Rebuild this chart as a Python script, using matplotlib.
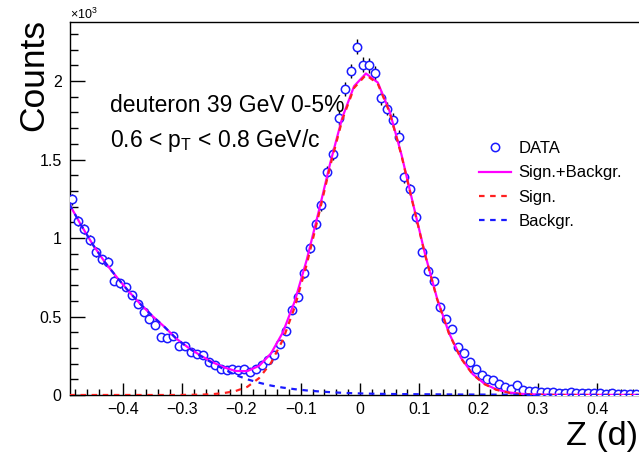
import numpy as np
import matplotlib.pyplot as plt
from matplotlib.ticker import MultipleLocator, FuncFormatter

plt.rcParams["font.family"] = ["Liberation Sans", "DejaVu Sans"]
plt.rcParams["mathtext.fontset"] = "custom"
plt.rcParams["mathtext.rm"] = "Liberation Sans"
plt.rcParams["mathtext.it"] = "Liberation Sans"

# data histogram: bin centres start at -0.485, step 0.01
z_first = -0.485
z_step = 0.01
counts = [
    1246, 1110, 1059, 987, 911, 864, 847, 728, 711, 690,
    635, 582, 529, 486, 444, 367, 363, 376, 310, 312,
    275, 259, 255, 212, 193, 166, 161, 164, 159, 168,
    149, 168, 189, 220, 255, 322, 408, 539, 626, 775,
    936, 1089, 1208, 1420, 1533, 1764, 1947, 2066, 2218, 2104,
    2100, 2053, 1890, 1824, 1752, 1645, 1386, 1310, 1132, 914,
    792, 724, 559, 486, 418, 304, 270, 210, 164, 130,
    100, 96, 70, 53, 40, 62, 32, 27, 24, 20,
    17, 22, 15, 14, 18, 12, 13, 15, 10, 11,
    9, 12, 8, 9, 7, 8,
]

# fit curves on a 0.02 grid starting at -0.49
fit_first = -0.49
fit_step = 0.02
sig_curve = [
    0, 0, 0, 0, 0, 0, 0, 0, 0, 0,
    1, 2, 5, 12, 25, 52, 108, 205, 352, 560,
    829, 1140, 1462, 1751, 1956, 2039, 1983, 1800, 1525, 1205,
    889, 611, 392, 235, 131, 69, 33, 15, 6, 2.5,
    1, 0, 0, 0, 0, 0, 0, 0, 0,
]
bkg_curve = [
    1215, 1080, 955, 845, 750, 660, 578, 503, 435, 360,
    302, 252, 206, 165, 128, 100, 78, 60, 47, 37,
    29, 23, 18, 14, 11, 9, 7.5, 6.5, 5.5, 5,
    4.5, 4, 3.5, 3, 2.8, 2.5, 2.2, 2, 1.8, 1.6,
    1.4, 1.3, 1.2, 1.1, 1, 0.9, 0.8, 0.7, 0.6,
]

z = z_first + z_step * np.arange(len(counts))
y = np.array(counts, dtype=float)
zf = fit_first + fit_step * np.arange(len(sig_curve))
sig = np.array(sig_curve, dtype=float)
bkg = np.array(bkg_curve, dtype=float)

fig = plt.figure(figsize=(6.39, 4.57), dpi=100)
ax = fig.add_axes([70 / 639, 1 - 395 / 457, 1 - 70 / 639, (395 - 22) / 457])

ax.errorbar(z, y, yerr=np.sqrt(y), fmt="none", ecolor="black", elinewidth=1, zorder=2)
ax.plot(z, y, "o", ms=6, mfc="white", mec="#1a1aff", mew=1.1, zorder=3, label="DATA")
ax.plot(zf, sig + bkg, color="#ff00ff", lw=1.6, zorder=4, label="Sign.+Backgr.")
ax.plot(zf, sig, color="#ff2020", lw=1.6, ls=(0, (2.5, 2.5)), zorder=5, label="Sign.")
ax.plot(zf, bkg, color="#1a1aff", lw=1.6, ls=(0, (2.5, 2.5)), zorder=5, label="Backgr.")

ax.set_xlim(-0.489, 0.4705)
ax.set_ylim(0, 2376)

ax.xaxis.set_major_locator(MultipleLocator(0.1))
ax.xaxis.set_minor_locator(MultipleLocator(0.02))
ax.yaxis.set_major_locator(MultipleLocator(500))
ax.yaxis.set_minor_locator(MultipleLocator(100))


def xfmt(v, pos):
    if abs(v) < 1e-9:
        return "0"
    return ("%.1f" % v).replace("-", "\u2212")


def yfmt(v, pos):
    return "%g" % (v / 1000)


ax.xaxis.set_major_formatter(FuncFormatter(xfmt))
ax.yaxis.set_major_formatter(FuncFormatter(yfmt))
ax.tick_params(which="both", direction="in", top=False, right=False, labelsize=11.5, width=1)
ax.tick_params(which="major", axis="y", length=11, pad=6)
ax.tick_params(which="minor", axis="y", length=6)
ax.tick_params(which="major", axis="x", length=9, pad=5)
ax.tick_params(which="minor", axis="x", length=4.5)
for s in ["left", "bottom", "top"]:
    ax.spines[s].set_linewidth(1)
ax.spines["right"].set_visible(False)

fig.text(70 / 639, 1 - 14 / 457, r"$\times$10$^{3}$", fontsize=9, ha="left", va="center")
fig.text(34 / 639, 1 - 19 / 457, "Counts", fontsize=25.5, rotation=90, ha="center", va="top")
fig.text(638 / 639, 1 - 436 / 457, "Z (d)", fontsize=24.5, ha="right", va="center")

fig.text(110 / 639, 1 - 106 / 457, "deuteron 39 GeV 0-5%", fontsize=16.5, ha="left", va="center")
fig.text(110 / 639, 1 - 140 / 457, r"0.6 < p$_{T}$ < 0.8 GeV/c", fontsize=16.5, ha="left", va="center")

leg = ax.legend(loc="upper left", bbox_to_anchor=(471 / 639, 1 - 133 / 457), bbox_transform=fig.transFigure,
                frameon=False, fontsize=12, handlelength=1.9, handletextpad=0.45, labelspacing=0.55,
                borderpad=0)

fig.savefig("out.png", dpi=100)
